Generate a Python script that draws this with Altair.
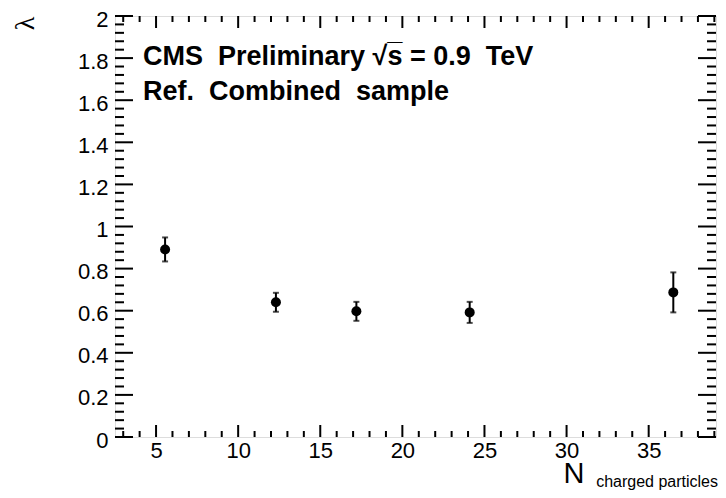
import altair as alt
import pandas as pd

# data
n_charged = [5.55, 12.3, 17.2, 24.1, 36.5]
lam = [0.891, 0.640, 0.597, 0.592, 0.687]
lam_err = [0.057, 0.045, 0.045, 0.050, 0.095]

x_major = [5, 10, 15, 20, 25, 30, 35]
x_minor = [v for v in range(3, 40) if v % 5 != 0]
y_major = [round(0.2 * i, 2) for i in range(0, 11)]
y_minor = [round(0.04 * i, 2) for i in range(0, 51) if i % 5 != 0]

X_DOMAIN = [2.5, 39.1]
Y_DOMAIN = [0, 2]
W, H = 601, 421

df = pd.DataFrame({"n": n_charged, "lam": lam, "err": lam_err})
df["lo"] = df["lam"] - df["err"]
df["hi"] = df["lam"] + df["err"]

xs = alt.Scale(domain=X_DOMAIN, nice=False, zero=False)
ys = alt.Scale(domain=Y_DOMAIN, nice=False, zero=False)

FONT = "Liberation Sans"
NB = "\u00a0"

x_axis = alt.Axis(values=x_major, ticks=False, domain=False, grid=False,
                  labelFontSize=22, labelFont=FONT, labelColor="black",
                  labelPadding=3, title="N", titleFont=FONT, titleFontSize=29,
                  titleFontWeight="normal", titleColor="black",
                  titleAlign="left", titleBaseline="alphabetic",
                  titleX=448, titleY=45, titleAnchor="start")
y_axis = alt.Axis(values=y_major, ticks=False, domain=False, grid=False,
                  format="~g", labelFontSize=22, labelFont=FONT,
                  labelColor="black", labelPadding=7, labelOffset=3, title="λ",
                  titleFont="Liberation Serif", titleFontSize=28,
                  titleFontWeight="normal", titleColor="black",
                  titleAngle=270, titleAlign="center", titleBaseline="middle",
                  titleX=-90, titleY=7)

base = alt.Chart(df)

errbars = base.mark_errorbar(ticks={"size": 6, "thickness": 2, "color": "black"},
                             color="black", thickness=2).encode(
    x=alt.X("n:Q", scale=xs, axis=x_axis),
    y=alt.Y("lo:Q", scale=ys, axis=y_axis),
    y2="hi:Q",
)
points = base.mark_point(filled=True, shape="circle", size=100, color="black",
                         opacity=1).encode(
    x=alt.X("n:Q", scale=xs),
    y=alt.Y("lam:Q", scale=ys),
)


def xticks(vals, length, top):
    d = pd.DataFrame({"v": vals})
    if top:
        yv, y2v = 0, length
    else:
        yv, y2v = H, H - length
    return alt.Chart(d).mark_rule(color="black", strokeWidth=2).encode(
        x=alt.X("v:Q", scale=xs), y=alt.value(yv), y2=alt.value(y2v))


def yticks(vals, length, right):
    d = pd.DataFrame({"v": vals})
    if right:
        xv, x2v = W, W - length
    else:
        xv, x2v = 0, length
    return alt.Chart(d).mark_rule(color="black", strokeWidth=2).encode(
        y=alt.Y("v:Q", scale=ys), x=alt.value(xv), x2=alt.value(x2v))


tick_layers = [
    xticks(x_major, 12, False), xticks(x_minor, 6, False),
    xticks(x_major, 12, True), xticks(x_minor, 6, True),
    yticks(y_major, 18, False), yticks(y_minor, 9, False),
    yticks(y_major, 18, True), yticks(y_minor, 9, True),
]

txt = pd.DataFrame({"t": [0]})
line1 = f"CMS{NB}{NB}Preliminary{NB}\u221as\u0305{NB}={NB}0.9{NB}{NB}TeV"
line2 = f"Ref.{NB}{NB}Combined{NB}{NB}sample"
label1 = alt.Chart(txt).mark_text(
    text=line1, font=FONT, fontSize=27,
    fontWeight="bold", align="left", baseline="alphabetic", color="black"
).encode(x=alt.value(28), y=alt.value(49))
label2 = alt.Chart(txt).mark_text(
    text=line2, font=FONT, fontSize=27,
    fontWeight="bold", align="left", baseline="alphabetic", color="black"
).encode(x=alt.value(28), y=alt.value(84))
subscript = alt.Chart(txt).mark_text(
    text="charged particles", font=FONT, fontSize=16, align="right",
    baseline="alphabetic", color="black"
).encode(x=alt.value(603), y=alt.value(471))

chart = alt.layer(errbars, points, *tick_layers, label1, label2, subscript).properties(
    width=W, height=H,
    autosize=alt.AutoSizeParams(type="none"),
    padding={"left": 107, "top": 8, "right": 2, "bottom": 53},
).configure_view(stroke="black", strokeWidth=2).configure(background="white")

chart.save("out.html", embed_options={"renderer": "svg", "actions": False})
